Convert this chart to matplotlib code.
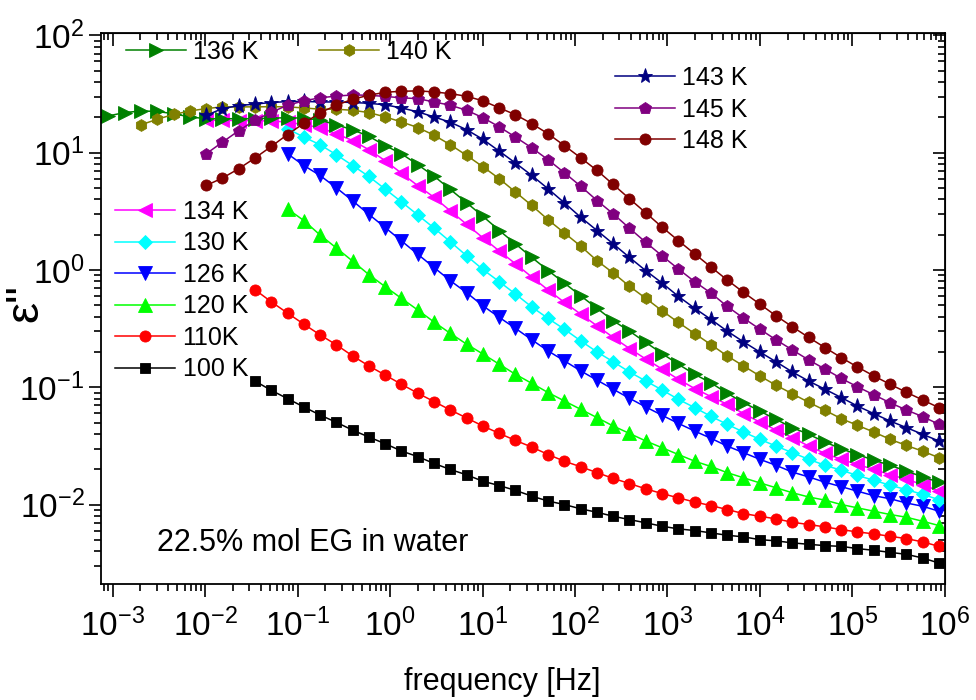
import numpy as np
import matplotlib.pyplot as plt
from matplotlib.ticker import LogLocator, NullFormatter

plt.rcParams['font.family'] = 'Liberation Sans'
plt.rcParams['mathtext.fontset'] = 'custom'
plt.rcParams['mathtext.rm'] = 'Liberation Sans'
plt.rcParams['mathtext.it'] = 'Liberation Sans:italic'
plt.rcParams['mathtext.bf'] = 'Liberation Sans:bold'

# frequency grid [Hz], all curves end at the highest frequency
freq = [9.01e-4, 1.35e-3, 2.03e-3, 3.04e-3, 4.56e-3, 6.84e-3, 1.03e-2, 1.54e-2, 2.31e-2, 3.46e-2,
        5.19e-2, 7.79e-2, 0.117, 0.175, 0.263, 0.394, 0.591, 0.887, 1.33, 2.00,
        2.99, 4.49, 6.74, 10.1, 15.2, 22.7, 34.1, 51.2, 76.7, 115,
        173, 259, 388, 583, 874, 1310, 1970, 2950, 4420, 6630,
        9950, 14900, 22400, 33600, 50400, 75600, 113000, 170000, 255000, 383000,
        574000, 861000]

eps_100 = [0.113, 0.0942, 0.080, 0.0679, 0.058, 0.0502, 0.0431, 0.0376, 0.0330, 0.0286,
           0.0256, 0.0224, 0.0199, 0.0179, 0.0158, 0.0145, 0.0132, 0.0118, 0.0107, 0.0100,
           0.00919, 0.00859, 0.00794, 0.00744, 0.00698, 0.00653, 0.00620, 0.00600, 0.00573, 0.00547,
           0.00530, 0.00502, 0.00490, 0.00471, 0.00458, 0.00446, 0.00440, 0.00421, 0.00407, 0.00391,
           0.00376, 0.00350, 0.00317]
eps_110 = [0.679, 0.536, 0.429, 0.345, 0.280, 0.230, 0.185, 0.152, 0.127, 0.106,
           0.0889, 0.0755, 0.0640, 0.0547, 0.0467, 0.0404, 0.0352, 0.0309, 0.0267, 0.0234,
           0.0210, 0.0187, 0.0167, 0.0151, 0.0136, 0.0124, 0.0114, 0.0105, 0.00980, 0.00906,
           0.00837, 0.00794, 0.00755, 0.00706, 0.00675, 0.00645, 0.00611, 0.00584, 0.00562, 0.00536,
           0.00512, 0.00480, 0.00440]
eps_120 = [3.32, 2.64, 1.99, 1.54, 1.19, 0.913, 0.720, 0.573, 0.455, 0.360,
           0.288, 0.233, 0.192, 0.157, 0.129, 0.108, 0.0901, 0.0764, 0.0649, 0.0551,
           0.0467, 0.0404, 0.0348, 0.0305, 0.0267, 0.0234, 0.0211, 0.0187, 0.0169, 0.0153,
           0.0139, 0.0126, 0.0116, 0.0109, 0.0100, 0.00937, 0.00877, 0.00822, 0.00779, 0.00720,
           0.00662]
eps_126 = [9.80, 7.78, 6.40, 5.02, 3.89, 2.98, 2.30, 1.77, 1.36, 1.05,
           0.810, 0.640, 0.495, 0.394, 0.318, 0.254, 0.204, 0.168, 0.138, 0.115,
           0.0962, 0.0805, 0.0679, 0.0577, 0.0492, 0.0423, 0.0367, 0.0315, 0.0277, 0.0243,
           0.0216, 0.0189, 0.0172, 0.0155, 0.0142, 0.0130, 0.0119, 0.0112, 0.0103, 0.00967,
           0.00877]
eps_130 = [16.0, 13.6, 11.7, 9.61, 7.78, 6.27, 4.89, 3.81, 2.94, 2.28,
           1.74, 1.32, 1.01, 0.794, 0.624, 0.484, 0.386, 0.313, 0.249, 0.200,
           0.165, 0.135, 0.113, 0.0948, 0.0789, 0.0670, 0.0565, 0.0483, 0.0415, 0.0360,
           0.0315, 0.0277, 0.0243, 0.0216, 0.0196, 0.0177, 0.0161, 0.0146, 0.0134, 0.0122,
           0.0110]
eps_134 = [18.9, 18.9, 18.8, 18.8, 18.6, 18.3, 17.3, 16.4, 14.5, 12.7,
           10.6, 8.55, 6.68, 5.23, 4.17, 3.19, 2.45, 1.88, 1.45, 1.13,
           0.871, 0.675, 0.530, 0.421, 0.334, 0.266, 0.214, 0.174, 0.143, 0.117,
           0.0975, 0.0833, 0.0716, 0.0596, 0.0505, 0.0432, 0.0372, 0.0315, 0.0273, 0.0243,
           0.0220, 0.0199, 0.0180, 0.0164, 0.0148, 0.0130]
eps_136 = [20.6, 22.0, 22.7, 22.5, 21.5, 20.2, 19.5, 19.5, 19.5, 19.5,
           19.7, 19.9, 19.7, 19.0, 17.3, 15.7, 13.8, 11.5, 9.80, 7.89,
           6.32, 4.86, 3.74, 2.87, 2.17, 1.67, 1.28, 0.990, 0.774, 0.603,
           0.471, 0.369, 0.301, 0.241, 0.194, 0.157, 0.129, 0.109, 0.0889, 0.0740,
           0.0627, 0.0532, 0.0453, 0.0397, 0.0341, 0.0299, 0.0267, 0.0239, 0.0216, 0.0193,
           0.0172, 0.0155]
eps_140 = [17.3, 19.3, 21.2, 22.7, 23.8, 24.6, 24.6, 24.6, 24.7, 24.6,
           24.1, 23.5, 23.5, 23.0, 22.0, 20.2, 18.3, 16.4, 14.1, 11.7,
           9.48, 7.59, 6.00, 4.62, 3.55, 2.68, 2.07, 1.60, 1.20, 0.943,
           0.726, 0.573, 0.449, 0.357, 0.287, 0.231, 0.185, 0.152, 0.125, 0.104,
           0.0880, 0.0744, 0.0636, 0.0540, 0.0474, 0.0415, 0.0360, 0.0319, 0.0285, 0.0251]
eps_143 = [20.8, 23.8, 25.2, 26.0, 26.8, 27.3, 27.4, 27.1, 27.1, 26.8,
           26.4, 25.6, 24.1, 22.3, 20.2, 18.2, 15.7, 13.0, 10.3, 8.17,
           6.40, 4.92, 3.74, 2.82, 2.17, 1.67, 1.28, 0.986, 0.774, 0.596,
           0.471, 0.379, 0.301, 0.244, 0.200, 0.165, 0.135, 0.113, 0.0962, 0.0817,
           0.0692, 0.0596, 0.0515, 0.0453, 0.0397, 0.0348]
eps_145 = [9.80, 12.3, 15.4, 18.9, 22.1, 25.4, 27.7, 29.4, 30.4, 31.1,
           30.9, 30.2, 29.4, 28.9, 27.1, 25.4, 23.0, 19.9, 16.6, 13.6,
           11.0, 8.71, 6.75, 5.19, 3.91, 3.01, 2.27, 1.72, 1.32, 1.02,
           0.794, 0.636, 0.489, 0.389, 0.313, 0.254, 0.208, 0.171, 0.143, 0.119,
           0.101, 0.0863, 0.0738, 0.0640, 0.0562, 0.0483]
eps_148 = [5.26, 6.08, 7.30, 9.01, 11.3, 14.3, 17.8, 21.9, 25.4, 28.6,
           30.9, 32.8, 33.4, 33.7, 33.0, 31.9, 30.3, 27.7, 24.1, 21.1,
           17.7, 14.5, 11.5, 9.06, 7.06, 5.36, 4.05, 3.07, 2.32, 1.78,
           1.37, 1.06, 0.822, 0.645, 0.512, 0.407, 0.328, 0.266, 0.218, 0.179,
           0.149, 0.125, 0.106, 0.0906, 0.0779, 0.0670]

series = [
    ('100 K', eps_100, 'black', 's', 7.5),
    ('110K', eps_110, '#FF0000', 'o', 8),
    ('120 K', eps_120, '#00FF00', '^', 9.5),
    ('126 K', eps_126, '#0000FF', 'v', 9.5),
    ('130 K', eps_130, '#00FFFF', 'D', 7),
    ('134 K', eps_134, '#FF00FF', '<', 9.5),
    ('136 K', eps_136, '#008000', '>', 9.5),
    ('140 K', eps_140, '#808000', 'h', 8.5),
    ('143 K', eps_143, '#000080', '*', 11),
    ('145 K', eps_145, '#800080', 'p', 9),
    ('148 K', eps_148, '#800000', 'o', 8),
]

decades = [10.0 ** e for e in range(-3, 7)]
decades_y = [10.0 ** e for e in range(-2, 3)]

fig, ax = plt.subplots(figsize=(9.76, 7), dpi=100)
fig.subplots_adjust(left=0.1035, right=0.9682, bottom=0.1657, top=0.9529)

lines = {}
for label, y, color, marker, ms in series:
    x = freq[len(freq) - len(y):]
    ln, = ax.plot(x, y, color=color, marker=marker, markersize=ms, lw=1.1,
                  markeredgewidth=0.6, label=label)
    lines[label] = ln

ax.set_xscale('log')
ax.set_yscale('log')
ax.set_xlim(7.5e-4, 1e6)
ax.set_ylim(2.1e-3, 105)
ax.set_xticks(decades)
ax.set_yticks(decades_y)

for a in (ax.xaxis, ax.yaxis):
    a.set_minor_locator(LogLocator(base=10, subs=np.arange(2, 10), numticks=20))
    a.set_minor_formatter(NullFormatter())

ax.tick_params(which='both', direction='out', width=1.2, labelsize=24)
ax.tick_params(which='major', length=9)
ax.tick_params(which='minor', length=5)
ax.tick_params(axis='x', pad=9)
ax.tick_params(axis='y', pad=3)
for s in ax.spines.values():
    s.set_linewidth(1.3)

top = ax.secondary_xaxis('top', functions=(lambda v: v, lambda v: v))
right = ax.secondary_yaxis('right', functions=(lambda v: v, lambda v: v))
top.set_xticks(decades)
right.set_yticks(decades_y)
for sec, a in ((top, top.xaxis), (right, right.yaxis)):
    a.set_minor_locator(LogLocator(base=10, subs=np.arange(2, 10), numticks=20))
    a.set_major_formatter(NullFormatter())
    a.set_minor_formatter(NullFormatter())
    sec.tick_params(which='both', direction='in', width=1.2)
    sec.tick_params(which='major', length=9)
    sec.tick_params(which='minor', length=5)

ax.set_xlabel('frequency [Hz]', fontsize=22)
ax.xaxis.set_label_coords(0.475, -0.15)
ax.set_ylabel('ε"', fontsize=34)
ax.yaxis.set_label_coords(-0.064, 0.51)

leg_kw = dict(frameon=False, fontsize=18, handlelength=2.4, handletextpad=0.3,
              borderpad=0, borderaxespad=0, numpoints=1, loc='upper left')
leg1 = ax.legend(handles=[lines['136 K'], lines['140 K']], ncol=2, columnspacing=2.4,
                 bbox_to_anchor=(0.0296, 0.987), **leg_kw)
ax.add_artist(leg1)
leg2 = ax.legend(handles=[lines['143 K'], lines['145 K'], lines['148 K']], labelspacing=0.3,
                 bbox_to_anchor=(0.609, 0.94), **leg_kw)
ax.add_artist(leg2)
ax.legend(handles=[lines[k] for k in ['134 K', '130 K', '126 K', '120 K', '110K', '100 K']],
          labelspacing=0.3, bbox_to_anchor=(0.0166, 0.697), **leg_kw)

ax.text(0.0664, 0.075, '22.5% mol EG in water', transform=ax.transAxes, fontsize=22, va='center')

fig.savefig('out.png', dpi=100)
